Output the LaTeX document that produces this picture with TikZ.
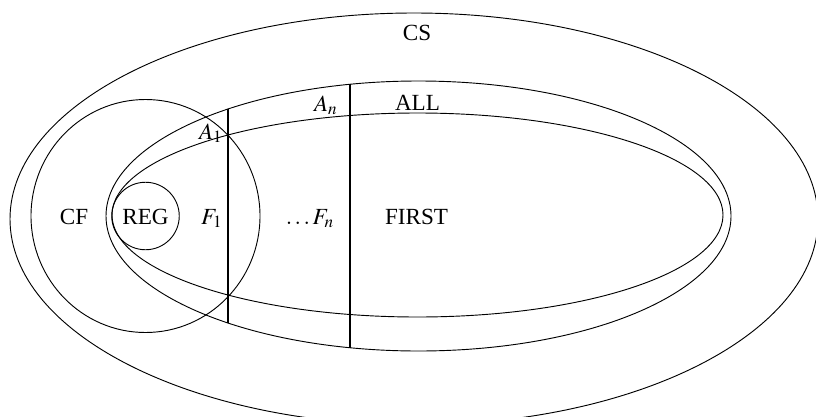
\documentclass[tikz,border=0pt]{standalone}
\usepackage{mathptmx}
\usepackage{fontspec}
\setmainfont{Liberation Serif}
\usepackage{tikz}
\usetikzlibrary{calc}

\begin{document}
\begin{tikzpicture}[x=0.0152cm, y=0.0152cm,
		lbl/.style={anchor=base, inner sep=0pt},
		cut/.style={line width=0.8pt}]
		\clip (0,0) rectangle (816,416);

		% centres of the sets
		\coordinate (cs) at (414,197);
		\coordinate (cf) at (145.5,200);
		\coordinate (reg) at (145.5,200);
		\coordinate (all) at (418.5,200);
		\coordinate (first) at (417.5,201);

		\draw (cs) ellipse [x radius=404, y radius=206];
		\draw (cf) ellipse [x radius=114.5, y radius=116.5];
		\draw (reg) circle [radius=33.75];
		\draw (all) ellipse [x radius=312.5, y radius=135];
		\draw (first) ellipse [x radius=305.5, y radius=102];

		% the two cuts through ALL
		\coordinate (a1top) at ($(all)+(127.56:312.5 and 135)$);
		\coordinate (a1bot) at ($(all)+(-127.56:312.5 and 135)$);
		\coordinate (antop) at ($(all)+(102.66:312.5 and 135)$);
		\coordinate (anbot) at ($(all)+(-102.66:312.5 and 135)$);
		\draw[cut] (a1top) -- (a1bot);
		\draw[cut] (antop) -- (anbot);

		\node[lbl] (lcs) at (417,376) {CS};
		\node[lbl] (lall) at (417.5,306) {ALL};
		\node[lbl] (lan) at (326,305) {$A_n$};
		\node[lbl] (la1) at (211,277) {$A_1$};
		\node[lbl] (lcf) at (74,192) {CF};
		\node[lbl] (lreg) at (145.5,192) {REG};
		\node[lbl] (lf1) at (212,192) {$F_1$};
		\node[lbl] (lfn) at (310,192) {$\ldots F_n$};
		\node[lbl] (lfirst) at (416.5,192) {FIRST};
	\end{tikzpicture}
\end{document}
